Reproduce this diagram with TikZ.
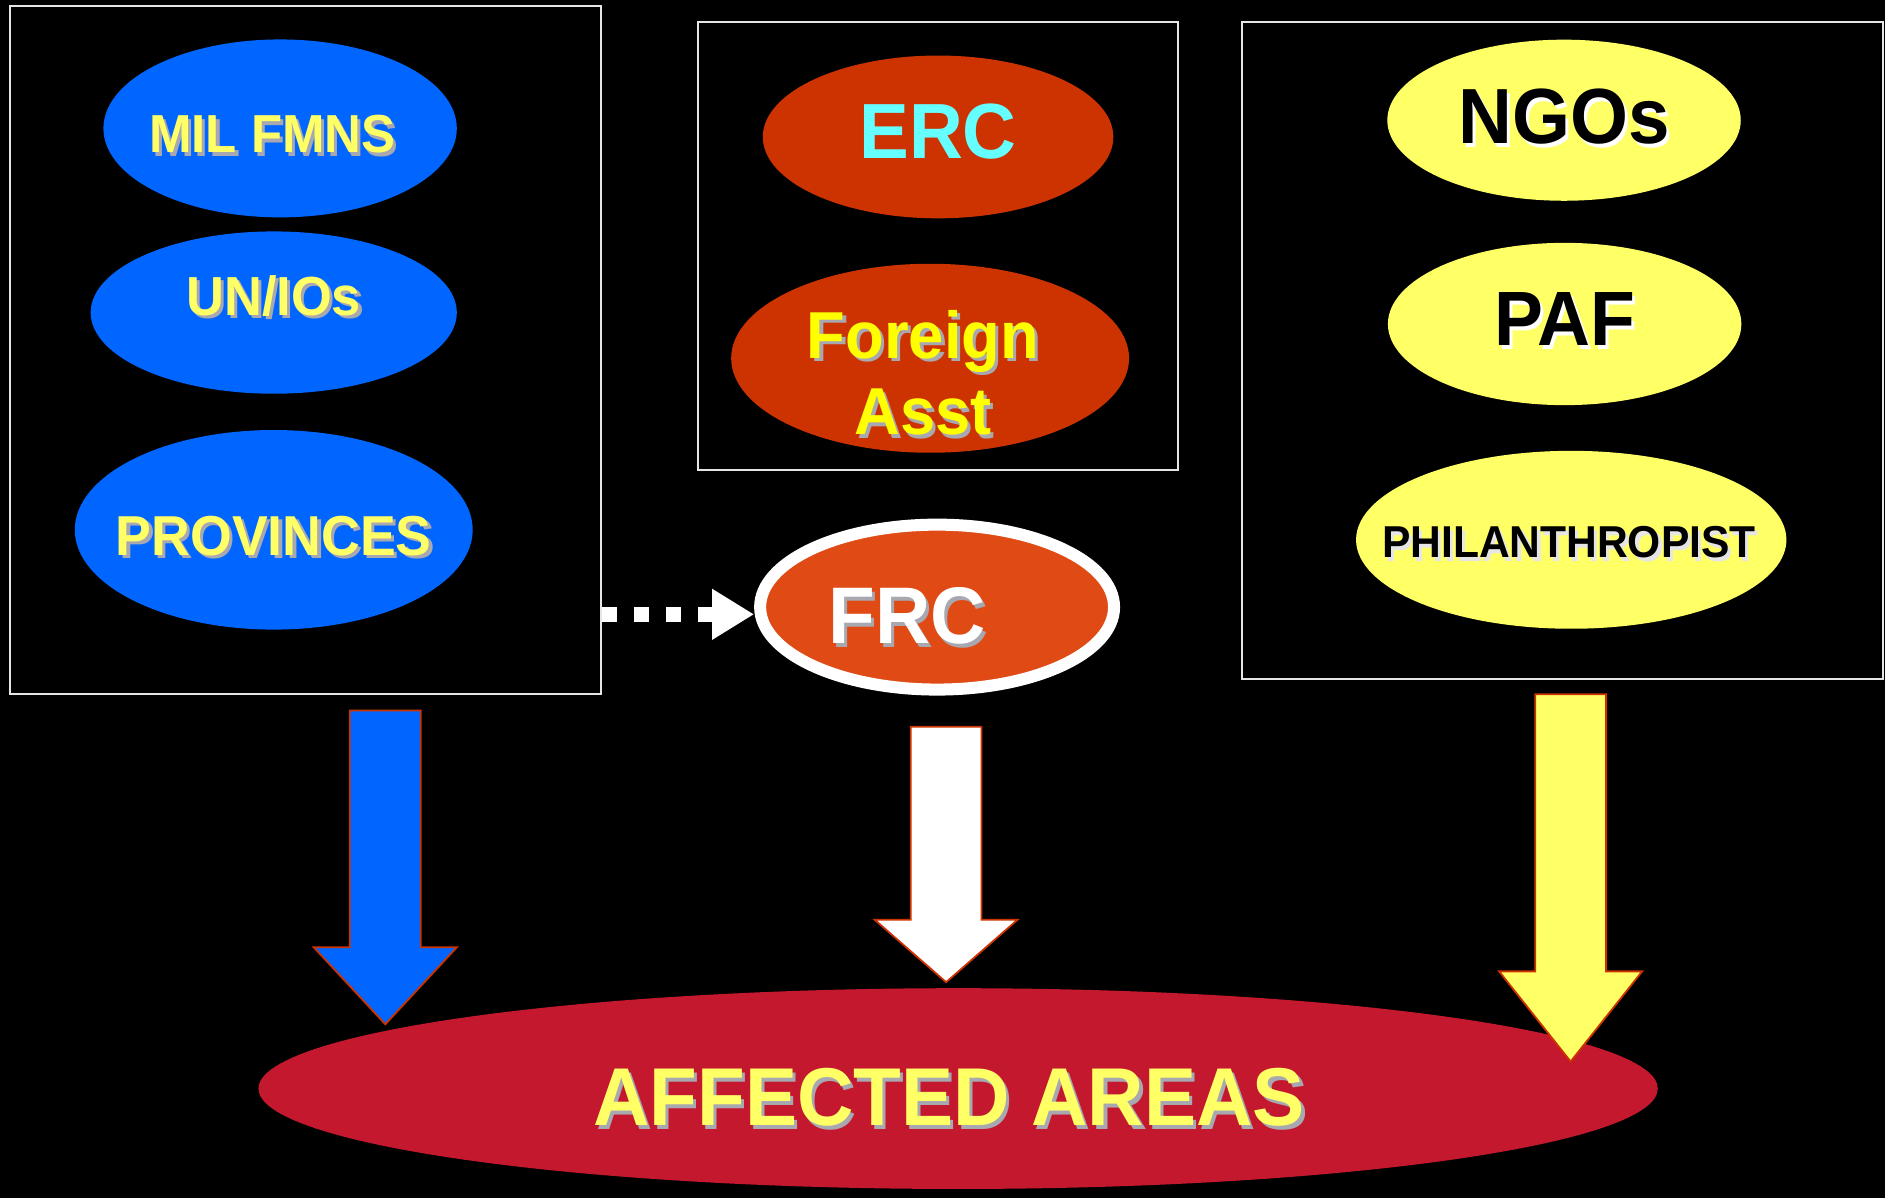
\documentclass[tikz,border=0pt]{standalone}
\usepackage{fontspec}
\setmainfont{Liberation Sans}
\usetikzlibrary{arrows.meta,shapes.geometric}
\definecolor{cblue}{HTML}{0066FF}
\definecolor{cerc}{HTML}{CC3300}
\definecolor{cfrc}{HTML}{E04A14}
\definecolor{cyel}{HTML}{FFFF66}
\definecolor{cred}{HTML}{C4182F}
\definecolor{ctyel}{HTML}{FFFF66}
\definecolor{cpyel}{HTML}{FFFF00}
\definecolor{ccyan}{HTML}{66FFFF}
\definecolor{cshad}{HTML}{A8A8B0}
\definecolor{cedge}{HTML}{CC3300}
\definecolor{cbox}{HTML}{E6E6E6}
\newcommand\shd[3]{\scalebox{1}[1.05]{\rlap{\hspace{1.4pt}\smash{\raisebox{-1.4pt}{\textcolor{#2}{#3}}}}\textcolor{#1}{#3}}}
\newcommand\fs[1]{\fontsize{#1pt}{#1pt}\selectfont\bfseries}
\newcommand\blockarr[5]{%
  \draw[barrow, fill=#1] ({#2-29.5},#3) -- ({#2+29.5},#3) -- ({#2+29.5},#4) -- ({#2+59.5},#4)
    -- (#2,#5) -- ({#2-59.5},#4) -- ({#2-29.5},#4) -- cycle;}
\begin{document}
\begin{tikzpicture}[x=0.5pt,y=-0.5pt,
  ell/.style={ellipse, inner sep=0pt, outer sep=0pt, draw=none},
  grp/.style={rectangle, draw=cbox, line width=0.75pt, inner sep=0pt, outer sep=0pt},
  lbl/.style={inner sep=0pt},
  barrow/.style={draw=cedge, line width=0.75pt, line join=miter},
  dotarr/.style={white, line width=6.25pt, dash pattern=on 6.25pt off 7.15pt,
    -{Triangle[length=17.5pt,width=20pt]}}]
\fill[black] (0,0) rectangle (1568,996.5);
\useasboundingbox (0,0) rectangle (1568,996.5);

% group boxes
\node[grp, minimum width=246pt, minimum height=286pt] (leftbox) at (254,291) {};
\node[grp, minimum width=199.75pt, minimum height=186.5pt] (midbox) at (780.25,204.5) {};
\node[grp, minimum width=266.5pt, minimum height=273.25pt] (rightbox) at (1299.5,291.25) {};

% left group
\node[ell, fill=cblue, minimum width=147pt, minimum height=74pt,
  label={[lbl, font=\fs{21.2}, xshift=-3.25pt, yshift=-2.4pt]center:{\shd{ctyel}{cshad}{MIL FMNS}}}] (mil) at (233,106.8) {};
\node[ell, fill=cblue, minimum width=152.3pt, minimum height=67.5pt,
  label={[lbl, font=\fs{21.8}, yshift=7pt]center:{\shd{ctyel}{cshad}{UN/IOs}}}] (unio) at (227.7,260) {};
\node[ell, fill=cblue, minimum width=165.5pt, minimum height=83pt,
  label={[lbl, font=\fs{22.3}, yshift=-2.5pt]center:{\shd{ctyel}{cshad}{PROVINCES}}}] (prov) at (227.7,440.7) {};

% middle group
\node[ell, fill=cerc, minimum width=145.8pt, minimum height=67.7pt,
  label={[lbl, font=\fs{31}, yshift=2.2pt]center:{\scalebox{1}[1.05]{\textcolor{ccyan}{ERC}}}}] (erc) at (780.3,113.9) {};
\node[ell, fill=cerc, minimum width=165.5pt, minimum height=78.6pt,
  label={[lbl, align=center, font={\fontsize{26.3pt}{31.8pt}\selectfont\bfseries}, xshift=-3pt, yshift=-6pt]center:{\shd{cpyel}{cshad}{Foreign}\\\shd{cpyel}{cshad}{Asst}}}] (fa) at (773.7,298) {};

% FRC
\node[ellipse, fill=cfrc, draw=white, line width=5pt, inner sep=0pt,
  minimum width=147.2pt, minimum height=68.6pt,
  label={[lbl, font=\fs{31.8}, xshift=-12.5pt, yshift=-3.75pt]center:{\shd{white}{cshad}{FRC}}}] (frc) at (779.5,505) {};

% right group
\node[ell, fill=cyel, minimum width=147pt, minimum height=67pt,
  label={[lbl, font=\fs{31}, yshift=1.5pt]center:{\shd{black}{white}{NGOs}}}] (ngo) at (1301,100) {};
\node[ell, fill=cyel, minimum width=147pt, minimum height=67.5pt,
  label={[lbl, font=\fs{30.5}, yshift=2pt]center:{\shd{black}{white}{PAF}}}] (paf) at (1301.5,269.5) {};
\node[ell, fill=cyel, minimum width=179pt, minimum height=74pt,
  label={[lbl, font=\fs{17.7}, xshift=-1pt, yshift=-1pt]center:{\shd{black}{cbox}{PHILANTHROPIST}}}] (phil) at (1307,449) {};

% affected areas
\node[ell, fill=cred, minimum width=582pt, minimum height=83.5pt,
  label={[lbl, font=\fs{32.5}, xshift=-3.75pt, yshift=-3.75pt]center:{\shd{ctyel}{cshad}{AFFECTED AREAS}}}] (aff) at (797,905.5) {};

% dotted connector
\coordinate (dstart) at (500.5,511);
\draw[dotarr] (dstart) -- (dstart -| frc.west);

% block arrows
\blockarr{cblue}{320.5}{591}{788}{852}
\blockarr{white}{787}{604.5}{765}{817}
\blockarr{cyel}{1306.5}{577.5}{808}{883}
\end{tikzpicture}
\end{document}
